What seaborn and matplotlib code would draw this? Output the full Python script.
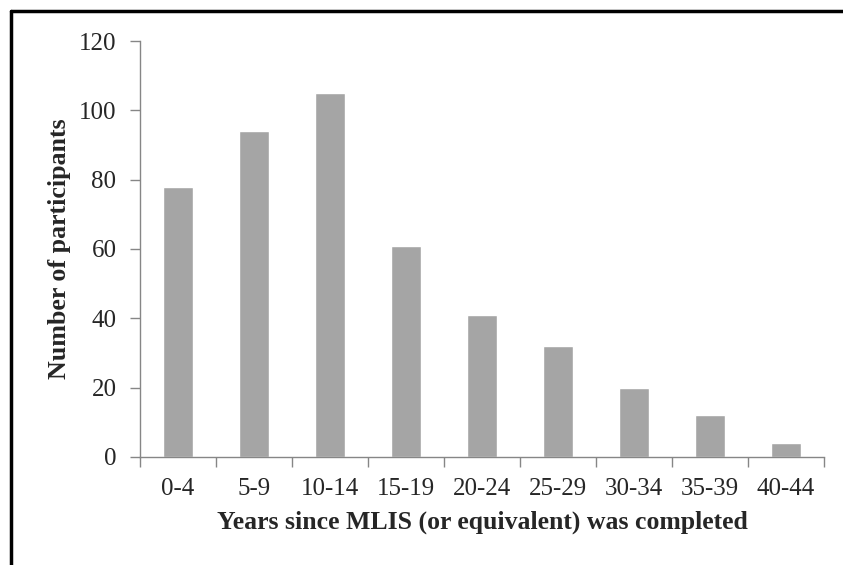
import numpy as np
import pandas as pd
import matplotlib
matplotlib.use("Agg")
import matplotlib.pyplot as plt
from matplotlib.lines import Line2D
import seaborn as sns

# data
year_groups = ["0-4", "5-9", "10-14", "15-19", "20-24", "25-29", "30-34", "35-39", "40-44"]
participants = [78, 94, 105, 61, 41, 32, 20, 12, 4]
y_ticks = [0, 20, 40, 60, 80, 100, 120]

df = pd.DataFrame({"years": year_groups, "count": participants})

sns.set_style("white")
plt.rcParams["font.family"] = ["Liberation Serif", "DejaVu Serif"]

fig = plt.figure(figsize=(8.43, 5.65), dpi=100)
ax = fig.add_axes([0.1661, 0.1912, 0.9775 - 0.1661, 0.9274 - 0.1912])

sns.barplot(data=df, x="years", y="count", color="#a5a5a5", width=0.4,
            saturation=1, ax=ax)

ax.set_ylim(0, 120)
ax.set_xlim(-0.5, len(year_groups) - 0.5)
ax.set_yticks(y_ticks)
ax.set_yticklabels([str(t) for t in y_ticks], fontsize=18)

# tick marks sit between categories, labels at the centres
ax.set_xticks(np.arange(-0.5, len(year_groups), 1))
ax.set_xticklabels([])
ax.set_xticks(np.arange(len(year_groups)), minor=True)
ax.set_xticklabels(year_groups, minor=True, fontsize=18)
ax.tick_params(axis="x", which="minor", length=0, pad=15)
ax.tick_params(axis="x", which="major", direction="out", length=7, width=1,
               color="#868686", bottom=True)
ax.tick_params(axis="y", direction="out", length=7, width=1, color="#868686",
               left=True, pad=10)

for side in ["top", "right"]:
    ax.spines[side].set_visible(False)
for side in ["left", "bottom"]:
    ax.spines[side].set_color("#868686")
    ax.spines[side].set_linewidth(1)

ax.set_xlabel("Years since MLIS (or equivalent) was completed",
              fontsize=18.5, fontweight="bold", labelpad=8)
ax.set_ylabel("Number of participants", fontsize=18.7, fontweight="bold",
              labelpad=6)

# black frame around the figure (only top and left edges are visible)
fig.add_artist(Line2D([11 / 843, 11 / 843], [0, 1 - 11 / 565],
                      transform=fig.transFigure, color="black", lw=2.5))
fig.add_artist(Line2D([11 / 843, 1], [1 - 11 / 565, 1 - 11 / 565],
                      transform=fig.transFigure, color="black", lw=2.5))

fig.savefig("out.png", dpi=100)
